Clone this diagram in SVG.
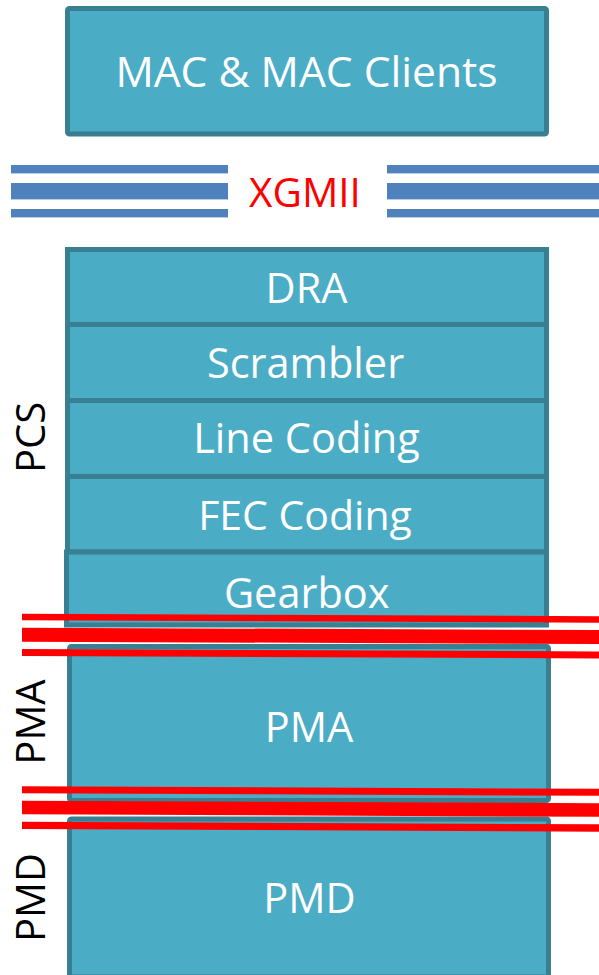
<svg xmlns="http://www.w3.org/2000/svg" width="599" height="975" viewBox="0 0 599 975">
<style>
.box{fill:#4bacc6;stroke:#377f91;stroke-width:5}
.lbl{font-family:"Open Sans","Liberation Sans",sans-serif;fill:#ffffff;text-anchor:middle}
.side{font-family:"Open Sans","Liberation Sans",sans-serif;fill:#000000;text-anchor:middle;font-size:40px}
.bar{fill:#4f81bd}
.barl{fill:#b9cde5}
.red{stroke:#ff0000;fill:none}
</style>
<rect width="599" height="975" fill="#ffffff"/>
<g id="mac">
<rect class="box" x="67.5" y="8.5" width="479" height="125.5" rx="2"/>
<text class="lbl" x="306.5" y="87" font-size="42.6">MAC &amp; MAC Clients</text>
</g>
<g id="xgmii">
<rect class="bar" x="11" y="165" width="217" height="8"/>
<rect class="barl" x="11" y="173" width="217" height="1"/>
<rect class="bar" x="11" y="183" width="217" height="16"/>
<rect class="barl" x="11" y="199" width="217" height="1"/>
<rect class="bar" x="11" y="209" width="217" height="8"/>
<rect class="barl" x="11" y="217" width="217" height="1"/>
<rect class="bar" x="387" y="165" width="212" height="8"/>
<rect class="barl" x="387" y="173" width="212" height="1"/>
<rect class="bar" x="387" y="183" width="212" height="16"/>
<rect class="barl" x="387" y="199" width="212" height="1"/>
<rect class="bar" x="387" y="209" width="212" height="8"/>
<rect class="barl" x="387" y="217" width="212" height="1"/>
<text x="305" y="207" font-size="40.5" fill="#ff0000" text-anchor="middle" font-family="Open Sans, Liberation Sans, sans-serif">XGMII</text>
</g>
<g id="dra">
<rect class="box" x="67.5" y="249.5" width="479" height="75"/>
<text class="lbl" x="306.5" y="303" font-size="41.5">DRA</text>
</g>
<g id="scrambler">
<rect class="box" x="67.5" y="324.5" width="479" height="76"/>
<text class="lbl" x="305.5" y="378" font-size="41.5">Scrambler</text>
</g>
<g id="line-coding">
<rect class="box" x="67.5" y="400.5" width="479" height="76"/>
<text class="lbl" x="306.5" y="453" font-size="41.5">Line Coding</text>
</g>
<g id="fec-coding">
<rect class="box" x="67.5" y="476.5" width="479" height="75.5"/>
<text class="lbl" x="305" y="530" font-size="41">FEC Coding</text>
</g>
<g id="gearbox">
<rect class="box" x="66.5" y="552" width="480" height="73"/>
<text class="lbl" x="306.7" y="608" font-size="41.5">Gearbox</text>
</g>
<g id="pma">
<rect class="box" x="69.5" y="646.5" width="479" height="154" rx="2"/>
<text class="lbl" x="309" y="741.7" font-size="41.5">PMA</text>
</g>
<g id="pmd">
<rect class="box" x="69.5" y="819" width="479" height="158" rx="2"/>
<text class="lbl" x="309.5" y="913" font-size="41.5">PMD</text>
</g>
<g id="side-labels">
<text class="side" transform="translate(45,437.5) rotate(-90)">PCS</text>
<text class="side" transform="translate(45,722) rotate(-90)">PMA</text>
<text class="side" transform="translate(45,897.5) rotate(-90)">PMD</text>
</g>
<g id="connectors">
<line class="red" x1="22" y1="617" x2="599" y2="619.4" stroke-width="6.5"/>
<line class="red" x1="22" y1="634.7" x2="599" y2="637" stroke-width="14"/>
<line class="red" x1="22" y1="652.5" x2="599" y2="655" stroke-width="7"/>
<line class="red" x1="22" y1="789.7" x2="599" y2="792.3" stroke-width="7"/>
<line class="red" x1="22" y1="807.5" x2="599" y2="810" stroke-width="13.6"/>
<line class="red" x1="22" y1="825.3" x2="599" y2="828" stroke-width="7.3"/>
</g>
</svg>
